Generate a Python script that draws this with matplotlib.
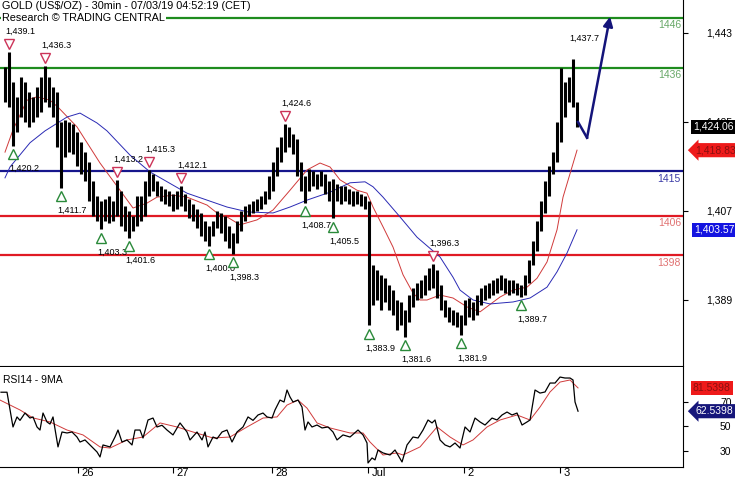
import matplotlib.pyplot as plt
from matplotlib.transforms import offset_copy

plt.rcParams['font.family'] = ['Liberation Sans', 'DejaVu Sans']

# hourly bars, hour 0 = first bar on the chart
bar_high = [1436.2, 1439.1, 1433, 1430, 1434, 1433, 1431, 1430, 1432, 1434,
            1436.3, 1434, 1432, 1431, 1425, 1425.5, 1425, 1424.5, 1423, 1421,
            1419, 1417, 1413, 1410, 1409, 1409.5, 1410, 1409, 1413.2, 1411,
            1408, 1407, 1406, 1410, 1410, 1413, 1415.3, 1414.5, 1413, 1412,
            1411.5, 1411, 1410.5, 1411, 1412.1, 1410.5, 1409.5, 1408.5, 1407.5, 1406.5,
            1405, 1404, 1405, 1407, 1406.5, 1406, 1404, 1402.5, 1405, 1407,
            1408, 1408.5, 1409, 1409.5, 1410, 1411, 1414, 1417, 1420, 1422,
            1424.6, 1424, 1422.5, 1421.5, 1417, 1414, 1415.5, 1415, 1414.5, 1415,
            1414.5, 1413, 1413.5, 1412.5, 1412, 1412, 1411.5, 1411, 1411, 1410.5,
            1410, 1409, 1396, 1395, 1394, 1393.5, 1392, 1391, 1389, 1388.5,
            1387, 1390, 1391.5, 1392.5, 1393, 1394, 1395.5, 1396.3, 1395, 1392,
            1389, 1387.5, 1387, 1386.5, 1386, 1389, 1389.5, 1388.5, 1390, 1391.5,
            1392, 1392.5, 1393, 1393.5, 1394, 1393.5, 1393, 1393, 1392.5, 1392,
            1394, 1397, 1401, 1405, 1409, 1413, 1416, 1419, 1425, 1436,
            1433, 1434, 1437.7, 1429]
bar_low = [1429, 1428, 1420.2, 1423, 1426, 1425, 1424, 1425, 1426, 1427,
           1429, 1428, 1426, 1420, 1411.7, 1418, 1419, 1418.5, 1416, 1414.5,
           1413, 1409, 1406, 1405, 1403.3, 1405, 1404.5, 1405, 1406, 1404,
           1403, 1401.6, 1403, 1404, 1405, 1406, 1410, 1411, 1410, 1409,
           1408.5, 1408, 1407, 1407.5, 1408, 1407, 1405.5, 1405, 1403.5, 1402,
           1401, 1400, 1402, 1403.5, 1402.5, 1401, 1399.5, 1398.3, 1400.5, 1403,
           1405, 1406, 1406.5, 1407, 1407.5, 1408.5, 1409.5, 1411, 1414, 1417,
           1419, 1420, 1418.5, 1414, 1411, 1408.7, 1411, 1412, 1411.5, 1412,
           1410.5, 1409, 1405.5, 1409, 1408.5, 1409, 1408.5, 1408, 1408.5, 1408,
           1407.5, 1383.9, 1388, 1389, 1387, 1388.5, 1387, 1386, 1383, 1384,
           1381.6, 1384.5, 1387.5, 1389, 1389.5, 1390, 1391, 1391.5, 1389.5, 1387,
           1385.5, 1384.5, 1384, 1383.5, 1381.9, 1384, 1385.5, 1385, 1386, 1388,
           1389, 1389.5, 1390, 1390.5, 1391, 1390.5, 1390, 1390.5, 1390, 1389.7,
           1390, 1392.5, 1396, 1399, 1403, 1406.5, 1410, 1414.5, 1417, 1421,
           1426, 1429, 1428, 1424]
hours = list(range(len(bar_high)))
last_close = 1424.06

# moving averages (red = fast, blue = slow)
ma_fast_x = [0, 2, 5.5, 8, 11.25, 13.25, 18, 23.75, 28.75, 32, 35.5, 38, 42, 45.5,
             50.5, 53, 55.5, 58.75, 63, 67, 71.25, 75.5, 78.75, 81.25, 83.75, 88,
             90.5, 92, 94.5, 97, 99.5, 102, 103.75, 105.5, 108.75, 112, 115.5,
             118.75, 123.75, 127, 130.5, 133, 135.5, 138, 139.5, 143]
ma_fast = [1418.9, 1423.4, 1429.4, 1430.1, 1429.4, 1428.0, 1424.0, 1416.7, 1411.2,
           1407.6, 1408.6, 1409.8, 1410.2, 1409.8, 1408.2, 1406.6, 1405.8, 1404.2,
           1405.2, 1407.2, 1411.2, 1415.3, 1416.7, 1415.9, 1413.3, 1411.2, 1410.6,
           1407.8, 1403.8, 1399.7, 1394.1, 1390.4, 1389.0, 1389.0, 1390.0, 1389.4,
           1387.6, 1386.6, 1389.6, 1391.0, 1391.6, 1393.4, 1396.7, 1403.2, 1409.8,
           1419.3]
ma_slow_x = [0, 1.25, 6.25, 10, 15.5, 18.75, 23, 25.5, 31.25, 36.25, 45.5, 55.5,
             60.75, 67, 71.25, 75.5, 81.25, 86.25, 90, 92, 94.5, 98.75, 103,
             108.75, 112, 113.75, 117, 121.25, 127, 131.25, 135.5, 138, 140.5, 143]
ma_slow = [1413.7, 1415.9, 1420.8, 1423.2, 1426.0, 1426.8, 1424.8, 1423.2, 1418.3,
           1414.9, 1410.6, 1407.8, 1406.8, 1406.6, 1407.8, 1409.2, 1410.8, 1412.7,
           1412.9, 1411.9, 1409.8, 1405.8, 1401.7, 1397.7, 1393.6, 1391.0, 1389.0,
           1388.2, 1388.6, 1389.4, 1391.6, 1394.7, 1398.5, 1403.2]
ma_fast_label = '1,418.83'
ma_slow_label = '1,403.57'

# support / resistance levels
levels = [1446, 1436, 1415, 1406, 1398]
level_colors = ['#1e8c1e', '#1e8c1e', '#16168c', '#e01a24', '#e01a24']
level_text_colors = ['#68a868', '#68a868', '#3a3aa6', '#e07272', '#e07272']

# marked swing highs / lows: (hour, price)
peaks = [(1, 1439.1), (10, 1436.3), (28, 1413.2), (36, 1415.3), (44, 1412.1),
         (70, 1424.6), (107, 1396.3), (142, 1437.7)]
troughs = [(2, 1420.2), (14, 1411.7), (24, 1403.3), (31, 1401.6), (51, 1400.0),
           (57, 1398.3), (75, 1408.7), (82, 1405.5), (91, 1383.9), (100, 1381.6),
           (114, 1381.9), (129, 1389.7)]

# forecast arrow
arrow_x = [143.25, 145.5, 151.25]
arrow_y = [1425.0, 1421.8, 1446.3]

# RSI 14 and its 9 period average
rsi_x = [-1, 0.5, 2, 3, 3.75, 5, 6.25, 7, 8, 8.75, 9.5, 10.5, 11.25, 12, 13.25,
         14.25, 15.5, 16.75, 18, 18.75, 20, 21.25, 23, 23.75, 24.5, 26.25, 27.5,
         28.25, 29.25, 30.5, 31.75, 32.5, 33.75, 34.5, 35.75, 37, 38, 39.25, 40.5,
         42, 43.75, 45.5, 46.25, 48, 49.25, 50, 50.75, 52, 53, 54.25, 55.5, 56.75,
         58, 59.5, 60.75, 62, 63.25, 64.5, 65.5, 66.75, 67.5, 68.75, 69.75, 70.5,
         71.25, 72, 73.25, 74.25, 75, 75.75, 76.75, 78, 79.25, 80.75, 82, 83, 84.5,
         86.25, 88.25, 89.5, 90.5, 90.75, 91.75, 92.5, 93.25, 94.5, 96.25, 97.5,
         99.25, 100.5, 102, 103.25, 104.5, 105.75, 106.75, 107.5, 108.75, 110,
         111.25, 112.5, 113.75, 115, 116.25, 117.5, 118.75, 120, 121.75, 123,
         124.25, 125.5, 126.75, 128, 129.25, 130.5, 131.25, 132.5, 133.75, 135,
         136.25, 137.5, 138.75, 140, 141.25, 142, 142.5, 143.25]
rsi = [78, 78, 49.6, 57.8, 55, 61, 56.9, 57.8, 49.6, 47.1, 61, 53.7, 52, 57.8, 33.3,
       45.5, 44.7, 45.5, 41.4, 37.3, 39, 34.9, 29.2, 25.1, 34.9, 33.3, 41.4, 47.1,
       37.3, 39, 34.9, 47.1, 47.1, 40.6, 55.3, 56.9, 49.6, 51, 47.1, 43.1, 52.9,
       45.5, 39, 45.5, 39, 45.5, 33.3, 41.4, 40, 45.5, 47.1, 37.3, 45.5, 49.6, 57.8,
       55, 59.4, 61, 57.8, 56.9, 63.5, 71.6, 70, 79.8, 74.1, 70, 71.6, 65.9, 47.1,
       53.7, 49.6, 51.2, 48.8, 49.6, 45.5, 39, 43.1, 41.4, 47.1, 43.1, 36.5, 20.2,
       24.3, 22.7, 30.8, 28.4, 26.7, 30.8, 21, 34.9, 41.4, 40.6, 47.1, 55.3, 52.9,
       55.3, 39, 34.9, 33.3, 36.5, 32.4, 49.6, 45.5, 56.9, 53.7, 51.2, 56.9, 55.3,
       59.4, 61.8, 59.4, 61, 51.2, 53.7, 55.3, 79.8, 77.3, 78.2, 85.5, 85.5, 90.4,
       89.6, 89.6, 88, 70, 62.5]
rsi_ma_x = [-1.25, 3.75, 7, 11.25, 15.5, 19.5, 23.75, 26.25, 30.5, 34.5, 38.75, 43,
            47, 52, 56.25, 60.5, 64.5, 68, 70.5, 73.25, 75.5, 78, 81.25, 86.25, 89.5,
            91.25, 94.5, 98, 99.5, 103.75, 108, 111.25, 114.5, 117, 120.5, 123.75,
            128, 131.25, 133.75, 136.25, 138.75, 141.25, 143.25]
rsi_ma = [71.6, 63.5, 57, 53.7, 47.1, 43.1, 33.3, 32.4, 39, 41.4, 52.9, 49.6, 45.5,
          40.6, 41.4, 49.6, 56.9, 57.8, 67.5, 71.6, 65, 52.9, 48.8, 44.7, 44.7, 37.3,
          26.7, 28.4, 26.7, 33.3, 49.6, 41.4, 34.9, 39, 49.6, 55.3, 59.4, 55.3, 65.9,
          78.2, 86.3, 88, 81.5]
rsi_label = '62.5398'
rsi_ma_label = '81.5398'

day_ticks = [18.25, 42, 66.75, 90.75, 114.75, 138.75]
day_labels = ['26', '27', '28', 'Jul', '2', '3']
price_ticks = [1389, 1407, 1425, 1443]
rsi_ticks = [30, 50, 70]

fig = plt.figure(figsize=(7.35, 4.8), dpi=100)
ax = fig.add_axes([0, 0.2375, 0.9293, 0.7625])
ax2 = fig.add_axes([0, 0.0271, 0.9293, 0.2083], sharex=ax)

# ---- price panel ----
for lev, c in zip(levels, level_colors):
    ax.axhline(lev, color=c, lw=1.6, zorder=1)

ax.plot(ma_fast_x, ma_fast, color='#d03a3a', lw=0.7, zorder=2)
ax.plot(ma_slow_x, ma_slow, color='#2a2ab4', lw=0.7, zorder=2)
ax.vlines(hours, bar_low, bar_high, color='black', lw=2.2, zorder=3)

for lev, c in zip(levels, level_text_colors):
    ax.annotate(str(lev), xy=(1, lev), xycoords=('axes fraction', 'data'),
                xytext=(-1.5, -1.5), textcoords='offset points',
                ha='right', va='top', fontsize=7.5, color=c)

up = offset_copy(ax.transData, fig=fig, y=5.8, units='points')
down = offset_copy(ax.transData, fig=fig, y=-6, units='points')
for h, p in peaks:
    ax.annotate(f'{p:,.1f}', xy=(h, p), xytext=(-3, 15), textcoords='offset points',
                ha='left', va='center', fontsize=6.5, zorder=5)
for h, p in peaks[:-1]:
    ax.plot(h, p, marker='v', ms=6.8, mfc='white', mec='#cc3358', mew=1,
            transform=up, zorder=6)
for h, p in troughs:
    ax.annotate(f'{p:,.1f}', xy=(h, p), xytext=(-3, -16.5), textcoords='offset points',
                ha='left', va='center', fontsize=6.5, zorder=5)
    ax.plot(h, p, marker='^', ms=6.8, mfc='white', mec='#2a8a3a', mew=1,
            transform=down, zorder=6)

ax.plot(arrow_x[:2], arrow_y[:2], color='#14147a', lw=1.8, zorder=7)
ax.annotate('', xy=(arrow_x[2], arrow_y[2]), xytext=(arrow_x[1], arrow_y[1]),
            arrowprops=dict(arrowstyle='-|>', color='#14147a', lw=1.8,
                            mutation_scale=14, shrinkA=0, shrinkB=0), zorder=7)

fig.text(2 / 735, 1 - 1 / 480, 'GOLD (US$/OZ) - 30min - 07/03/19 04:52:19 (CET)',
         ha='left', va='top', fontsize=7.8)
fig.text(2 / 735, 1 - 13 / 480, 'Research \u00a9 TRADING CENTRAL', ha='left', va='top',
         fontsize=7.8, bbox=dict(fc='white', ec='none', pad=0.5))

ax.set_xlim(-1.25, 169.5)
ax.set_ylim(1375.65, 1449.67)
ax.yaxis.tick_right()
ax.set_yticks(price_ticks)
ax.set_yticklabels([f'{t:,}' for t in price_ticks])
ax.tick_params(axis='y', direction='out', length=3.6, width=0.8, pad=13, labelsize=7.5)
ax.tick_params(axis='x', bottom=False, labelbottom=False)
for s in ['left', 'top']:
    ax.spines[s].set_visible(False)

ax.annotate(f'{last_close:,.2f}', xy=(1, last_close), xycoords=('axes fraction', 'data'),
            xytext=(7, 0), textcoords='offset points', ha='left', va='center',
            color='white', fontsize=7.5, annotation_clip=False, zorder=8,
            bbox=dict(boxstyle='square,pad=0.2', fc='black', ec='none'))
ax.annotate(ma_fast_label, xy=(1, ma_fast[-1]), xycoords=('axes fraction', 'data'),
            xytext=(9, 0), textcoords='offset points', ha='left', va='center',
            color='#8a1010', fontsize=7.5, annotation_clip=False,
            bbox=dict(boxstyle='larrow,pad=0.2', fc='#ee1a1a', ec='none'))
ax.annotate(ma_slow_label, xy=(1, ma_slow[-1]), xycoords=('axes fraction', 'data'),
            xytext=(8, 0), textcoords='offset points', ha='left', va='center',
            color='white', fontsize=7.5, annotation_clip=False,
            bbox=dict(boxstyle='square,pad=0.2', fc='#1414e0', ec='none'))

# ---- RSI panel ----
ax2.plot(rsi_ma_x, rsi_ma, color='#d03a3a', lw=0.7)
ax2.plot(rsi_x, rsi, color='black', lw=0.9)
ax2.text(0.004, 0.92, 'RSI14 - 9MA', transform=ax2.transAxes, ha='left', va='top',
         fontsize=7.5)
ax2.set_ylim(16.9, 98.6)
ax2.yaxis.tick_right()
ax2.set_yticks(rsi_ticks)
ax2.tick_params(axis='y', direction='out', length=3.6, width=0.8, pad=23, labelsize=7.5)
ax2.set_xticks(day_ticks)
ax2.tick_params(axis='x', direction='out', length=4, width=0.8, labelbottom=False)
for t, lab in zip(day_ticks, day_labels):
    ax2.annotate(lab, xy=(t, 0), xycoords=('data', 'axes fraction'), xytext=(2.5, -1),
                 textcoords='offset points', ha='left', va='top', fontsize=8,
                 annotation_clip=False)
for s in ['left', 'top']:
    ax2.spines[s].set_visible(False)

ax2.annotate(rsi_ma_label, xy=(1, rsi_ma[-1]), xycoords=('axes fraction', 'data'),
             xytext=(7, 0), textcoords='offset points', ha='left', va='center',
             color='#8a1010', fontsize=7.5, annotation_clip=False,
             bbox=dict(boxstyle='square,pad=0.2', fc='#ee1a1a', ec='none'))
ax2.annotate(rsi_label, xy=(1, rsi[-1]), xycoords=('axes fraction', 'data'),
             xytext=(9, 0), textcoords='offset points', ha='left', va='center',
             color='white', fontsize=7.5, annotation_clip=False,
             bbox=dict(boxstyle='larrow,pad=0.2', fc='#16167a', ec='none'))

fig.savefig('out.png', dpi=100)
